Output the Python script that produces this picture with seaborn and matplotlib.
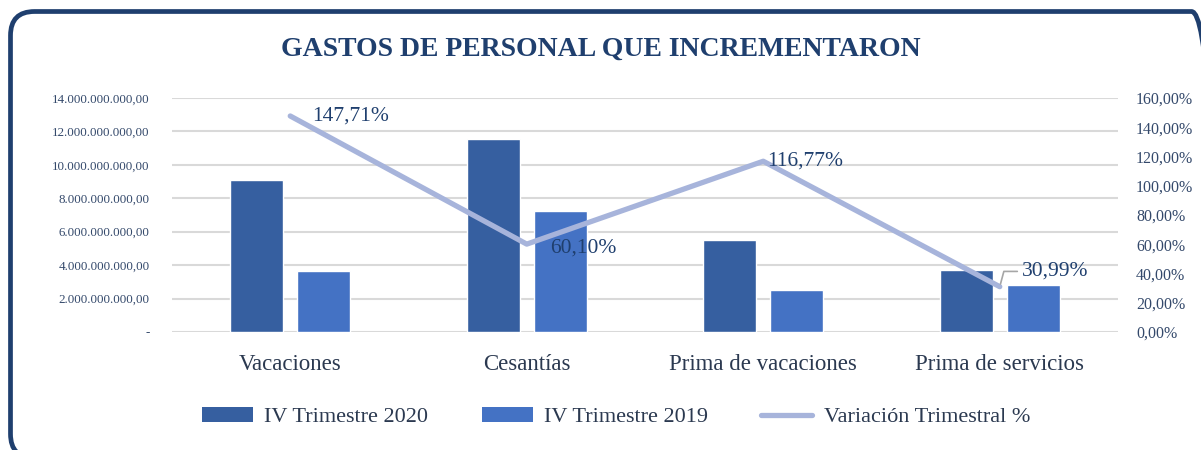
import numpy as np
import pandas as pd
import seaborn as sns
import matplotlib
matplotlib.use("Agg")
import matplotlib.pyplot as plt
from matplotlib.patches import FancyBboxPatch, Patch
from matplotlib.lines import Line2D
from matplotlib.ticker import FuncFormatter, MultipleLocator

# ---- data ----
categories = ["Vacaciones", "Cesantías", "Prima de vacaciones", "Prima de servicios"]
series_names = ["IV Trimestre 2020", "IV Trimestre 2019"]
values_2020 = [9.12e9, 11.55e9, 5.48e9, 3.72e9]
values_2019 = [3.68e9, 7.22e9, 2.53e9, 2.84e9]
variation = [147.71, 60.10, 116.77, 30.99]
variation_labels = ["147,71%", "60,10%", "116,77%", "30,99%"]
line_name = "Variación Trimestral %"

sns.set_theme(style="white")
plt.rcParams["font.family"] = ["Liberation Serif", "DejaVu Serif"]

navy = "#1F3F6E"
tick_col = "#34496B"
label_col = "#2B3950"
c2020 = "#365FA0"
c2019 = "#4472C4"
cline = "#A7B4DB"

df = pd.DataFrame({
    "cat": categories * 2,
    "serie": [series_names[0]] * 4 + [series_names[1]] * 4,
    "val": values_2020 + values_2019,
})

fig = plt.figure(figsize=(12.01, 4.5), dpi=100)
ax = fig.add_axes([0.1432, 0.2622, 0.7877, 0.52])

sns.barplot(data=df, x="cat", y="val", hue="serie", order=categories,
            hue_order=series_names, palette=[c2020, c2019],
            width=0.567, gap=0.21, ax=ax, legend=False, saturation=1)

ax.set_xlim(-0.5, len(categories) - 0.5)
ax.set_ylim(0, 14e9)
ax.yaxis.set_major_locator(MultipleLocator(2e9))

def fmt_left(v, pos):
    if abs(v) < 1:
        return "-"
    s = f"{v:,.2f}"
    return s.replace(",", "X").replace(".", ",").replace("X", ".")

ax.yaxis.set_major_formatter(FuncFormatter(fmt_left))
ax.grid(axis="y", color="#D9D9D9", linewidth=1.5)
ax.set_axisbelow(True)
for s in ax.spines.values():
    s.set_visible(False)
ax.set_xlabel("")
ax.set_ylabel("")
ax.tick_params(axis="y", length=0, pad=16, labelsize=9.4, labelcolor=tick_col)
ax.tick_params(axis="x", length=0, pad=16, labelsize=16.5, labelcolor=label_col)

ax2 = ax.twinx()
sns.lineplot(x=np.arange(len(categories)), y=variation, ax=ax2, color=cline,
             linewidth=3.8, solid_capstyle="round")
ax2.set_ylim(0, 160)
ax2.yaxis.set_major_locator(MultipleLocator(20))
ax2.yaxis.set_major_formatter(FuncFormatter(lambda v, p: f"{v:.2f}".replace(".", ",") + "%"))
ax2.tick_params(axis="y", length=0, pad=13, labelsize=11.5, labelcolor=tick_col)
for s in ax2.spines.values():
    s.set_visible(False)
ax2.set_xlim(-0.5, len(categories) - 0.5)

offsets = [(16, 0), (17, -3), (3, 0), (15, 12)]
for i, (v, lab) in enumerate(zip(variation, variation_labels)):
    if i == 3:
        ax2.annotate(lab, xy=(i, v), xytext=(16, 11), textcoords="offset points",
                     fontsize=15.5, color=navy, va="center", ha="left",
                     arrowprops=dict(arrowstyle="-", color="#A6A6A6", lw=1.2,
                                     connectionstyle="angle,angleA=0,angleB=75,rad=0",
                                     shrinkA=1, shrinkB=2))
    else:
        ax2.annotate(lab, xy=(i, v), xytext=offsets[i], textcoords="offset points",
                     fontsize=15.5, color=navy, va="center", ha="left")

fig.text(0.5, 0.891, "GASTOS DE PERSONAL QUE INCREMENTARON", ha="center", va="center",
         fontsize=20, fontweight="bold", color=navy)

# legend
handles = [Patch(facecolor=c2020, edgecolor="none"),
           Patch(facecolor=c2019, edgecolor="none"),
           Line2D([0], [0], color=cline, lw=3.8, solid_capstyle="round")]
fig.legend(handles, series_names + [line_name], loc="center", bbox_to_anchor=(0.513, 0.073),
           ncol=3, frameon=False, fontsize=16, labelcolor=label_col,
           handlelength=2.3, handleheight=0.7, columnspacing=2.4, handletextpad=0.5)

# frame
frame = FancyBboxPatch((10.5, -8), 1205, 446.5, boxstyle="round,pad=0,rounding_size=24",
                       transform=None, facecolor="none", edgecolor=navy, linewidth=3.4,
                       clip_on=False)
fig.patches.append(frame)

fig.savefig("out.png", dpi=100)
